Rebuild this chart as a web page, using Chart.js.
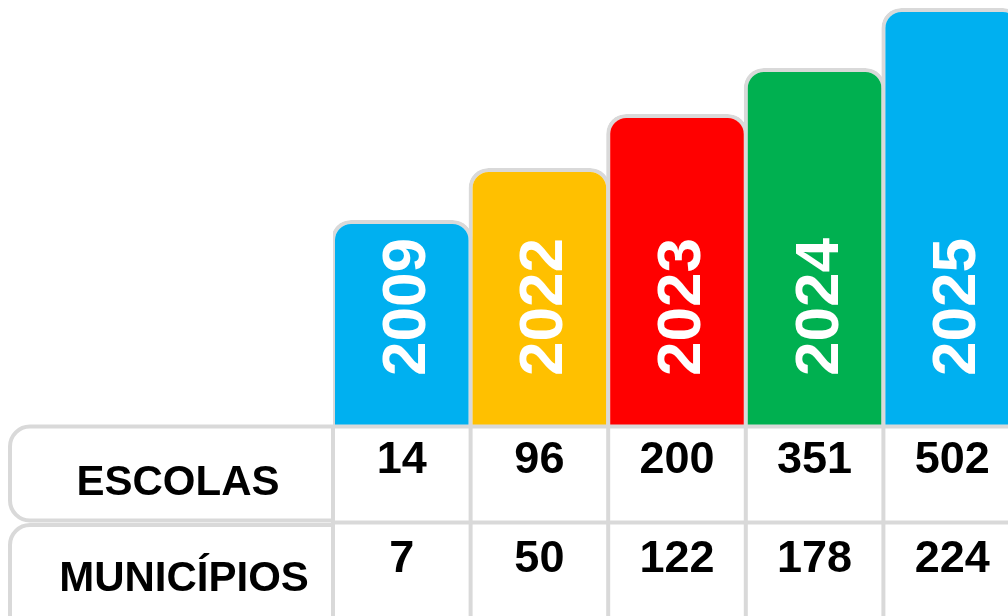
<!DOCTYPE html>
<html>
<head>
<meta charset="utf-8">
<script src="https://cdn.jsdelivr.net/npm/chart.js@4"></script>
<style>
html, body { margin: 0; padding: 0; overflow: hidden; background: #ffffff; }
#wrap { position: absolute; left: 0; top: 0; width: 1021px; height: 616px; }
</style>
</head>
<body>
<div id="wrap"><canvas id="c"></canvas></div>
<script>
// ---- data ----
const years = ['2009', '2022', '2023', '2024', '2025'];
const barHeights = [205, 257, 311, 357, 417];   // decorative bar heights
const escolas = [14, 96, 200, 351, 502];
const municipios = [7, 50, 122, 178, 224];
const rowLabels = ['ESCOLAS', 'MUNICÍPIOS'];
const barColors = ['#00b0f0', '#ffc000', '#ff0000', '#00b050', '#00b0f0'];

const FONT = "'Liberation Sans', Arial, Helvetica, sans-serif";
const GRID = '#d9d9d9';

const tablePlugin = {
  id: 'tablePlugin',
  afterDatasetsDraw(chart) {
    const ctx = chart.ctx;
    const xs = chart.scales.x;
    const ys = chart.scales.y;
    const area = chart.chartArea;
    const n = years.length;
    const colW = (area.right - area.left) / n;
    const top = area.bottom + 1.5;
    const mid = top + 96;
    const bottom = 640;

    // year labels inside bars
    ctx.save();
    ctx.fillStyle = '#ffffff';
    ctx.font = 'bold 62px ' + FONT;
    ctx.textAlign = 'center';
    ctx.textBaseline = 'middle';
    years.forEach((y, i) => {
      const cx = xs.getPixelForValue(i) + 2;
      const cy = ys.getPixelForValue(118);
      ctx.save();
      ctx.translate(cx, cy);
      ctx.rotate(-Math.PI / 2);
      ctx.fillText(y, 0, 4);
      ctx.restore();
    });
    ctx.restore();

    // table grid
    ctx.save();
    ctx.strokeStyle = GRID;
    ctx.lineWidth = 4;
    const L = 10, R = area.left, rad = 20;
    function leftBox(t, b) {
      ctx.beginPath();
      ctx.moveTo(R, t);
      ctx.lineTo(L + rad, t);
      ctx.arcTo(L, t, L, t + rad, rad);
      ctx.lineTo(L, b - rad);
      ctx.arcTo(L, b, L + rad, b, rad);
      ctx.lineTo(R, b);
      ctx.stroke();
    }
    leftBox(top, mid - 2);
    leftBox(mid + 2.5, bottom);
    ctx.beginPath();
    ctx.moveTo(R, top); ctx.lineTo(chart.width + 10, top);
    ctx.moveTo(R, mid); ctx.lineTo(chart.width + 10, mid);
    ctx.stroke();
    ctx.beginPath();
    for (let i = 0; i <= n; i++) {
      const x = area.left + i * colW;
      ctx.moveTo(x, top); ctx.lineTo(x, chart.height + 10);
    }
    ctx.stroke();

    // row labels
    ctx.fillStyle = '#000000';
    ctx.font = 'bold 42px ' + FONT;
    ctx.textAlign = 'center';
    ctx.textBaseline = 'alphabetic';
    ctx.fillText(rowLabels[0], 178, top + 68);
    ctx.fillText(rowLabels[1], 184, mid + 68);

    // values
    ctx.font = 'bold 45px ' + FONT;
    escolas.forEach((v, i) => {
      ctx.fillText(String(v), xs.getPixelForValue(i), top + 46);
    });
    municipios.forEach((v, i) => {
      ctx.fillText(String(v), xs.getPixelForValue(i), mid + 49);
    });
    ctx.restore();
  }
};

new Chart(document.getElementById('c'), {
  type: 'bar',
  data: {
    labels: years,
    datasets: [{
      data: barHeights,
      backgroundColor: barColors,
      borderColor: GRID,
      borderWidth: 4,
      borderSkipped: 'bottom',
      borderRadius: { topLeft: 20, topRight: 20, bottomLeft: 0, bottomRight: 0 },
      categoryPercentage: 1,
      barPercentage: 141.5 / 137.5
    }]
  },
  options: {
    responsive: true,
    maintainAspectRatio: false,
    animation: false,
    layout: { padding: { left: 333, right: 0, top: 0, bottom: 191 } },
    plugins: { legend: { display: false }, tooltip: { enabled: false } },
    scales: {
      x: { display: false, grid: { display: false } },
      y: { display: false, min: 0, max: 425, grid: { display: false } }
    }
  },
  plugins: [tablePlugin]
});
</script>
</body>
</html>
